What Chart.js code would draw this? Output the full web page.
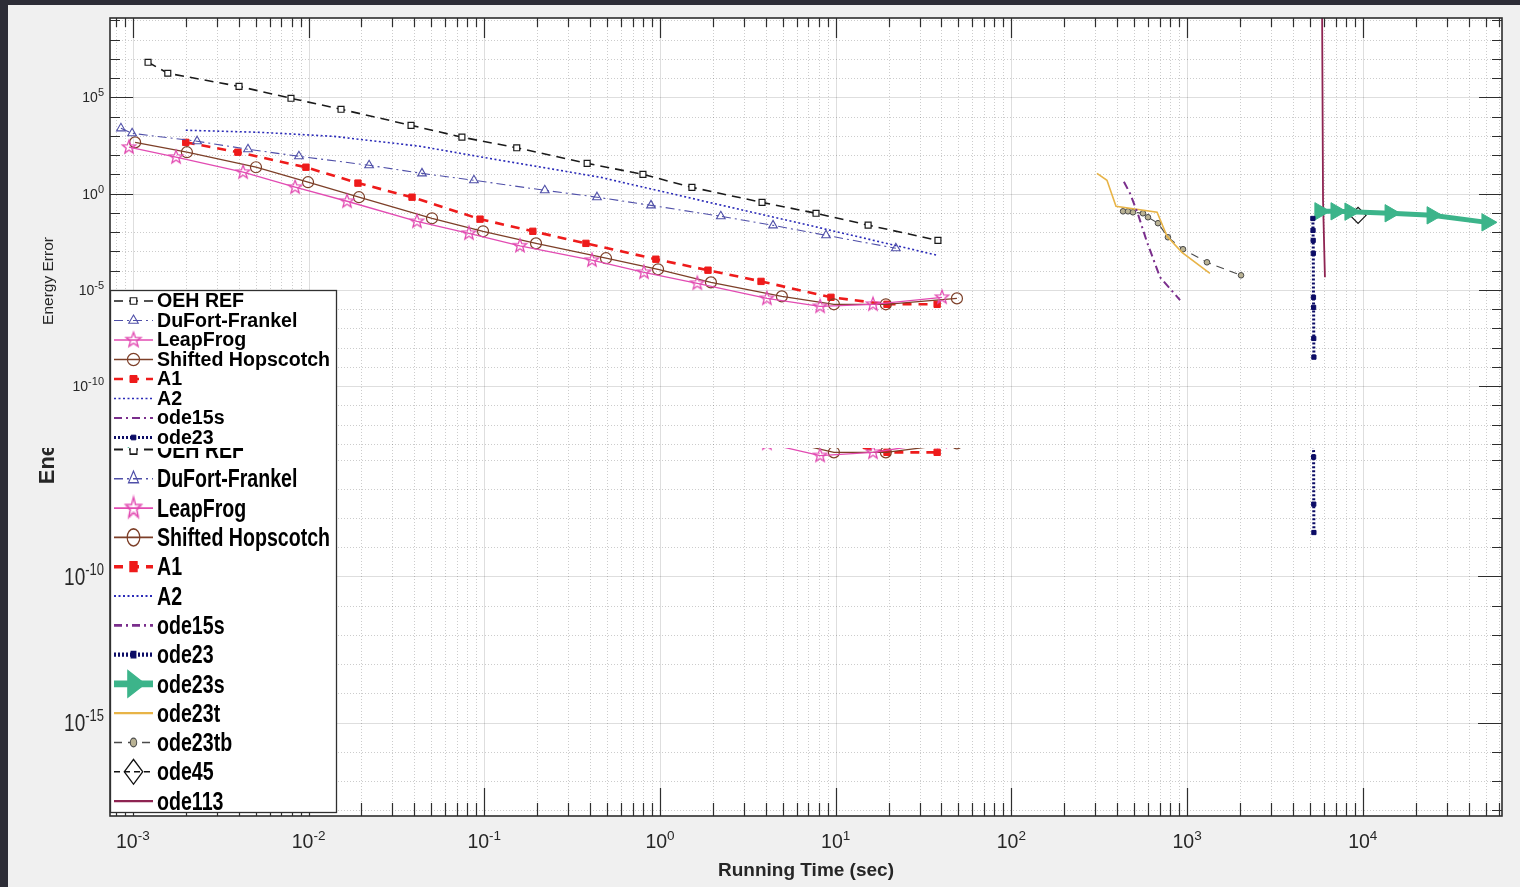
<!DOCTYPE html>
<html>
<head>
<meta charset="utf-8">
<script src="https://cdn.jsdelivr.net/npm/chart.js@4.4.1/dist/chart.umd.min.js"></script>
<style>
  html, body { margin: 0; padding: 0; background: #2d2d37; overflow: hidden; }
  #paper { position: absolute; left: 8px; top: 5px; width: 1512px; height: 882px; background: #f0f0f0; }
  .clip { position: absolute; left: 0; width: 1520px; overflow: hidden; }
  .clip canvas { position: absolute; left: 0; }
</style>
</head>
<body>
<div id="paper"></div>
<div class="clip" style="top:0; height:448px;">
  <canvas id="topChart" width="1520" height="620" style="top:0; width:1520px; height:620px;"></canvas>
</div>
<div class="clip" style="top:448px; height:439px;">
  <canvas id="bottomChart" width="1520" height="887" style="top:-448px; width:1520px; height:887px;"></canvas>
</div>

<script>
// ---- data (running time in sec, energy error) ----
var oehRefX = [1.22e-3, 1.58e-3, 4.02e-3, 7.94e-3, 0.0153, 0.0383, 0.0746, 0.153, 0.385, 0.80, 1.52, 3.81, 7.73, 15.3, 38.2];
var oehRefY = [6.6e6, 1.78e6, 3.7e5, 8.9e4, 2.4e4, 3.5e3, 850, 240, 37, 10, 2.1, 0.35, 0.095, 0.023, 3.7e-3];

var duFortX = [8.55e-4, 9.9e-4, 2.32e-3, 4.52e-3, 8.81e-3, 0.0221, 0.0442, 0.0873, 0.221, 0.438, 0.889, 2.22, 4.40, 8.81, 22.0];
var duFortY = [2450, 1350, 525, 200, 87, 29.5, 11.2, 4.9, 1.48, 0.65, 0.245, 0.066, 0.0224, 6.8e-3, 1.45e-3];

var leapFrogX = [9.5e-4, 1.76e-3, 4.24e-3, 8.38e-3, 0.01656, 0.0414, 0.0818, 0.1596, 0.410, 0.811, 1.63, 4.06, 8.15, 16.3, 40.3];
var leapFrogY = [257, 78, 12.9, 2.14, 0.40, 0.036, 8.7e-3, 1.95e-3, 3.47e-4, 8.1e-5, 2.19e-5, 3.6e-6, 1.38e-6, 1.78e-6, 4.1e-6];

var hopscotchX = [1.03e-3, 2.03e-3, 5.02e-3, 9.93e-3, 0.01936, 0.0504, 0.0984, 0.197, 0.493, 0.975, 1.95, 4.94, 9.77, 19.3, 49.0];
var hopscotchY = [457, 141, 23.4, 3.9, 0.65, 0.052, 0.011, 2.6e-3, 4.4e-4, 1.17e-4, 2.45e-5, 4.6e-6, 1.78e-6, 1.78e-6, 3.6e-6];

var a1X = [2.0e-3, 3.96e-3, 9.66e-3, 0.0191, 0.0388, 0.0946, 0.189, 0.379, 0.948, 1.876, 3.76, 9.40, 19.6, 37.8];
var a1Y = [457, 141, 23.4, 3.5, 0.65, 0.047, 0.011, 2.6e-3, 3.9e-4, 1.05e-4, 2.75e-5, 4.1e-6, 1.78e-6, 1.78e-6];

var a2X = [2.0e-3, 5.28e-3, 0.01377, 0.043, 0.1228, 0.456, 1.69, 6.27, 37.8];
var a2Y = [1950, 1520, 950, 288, 54, 7.1, 0.45, 0.029, 6.3e-4];

var ode15sX = [437, 473, 526, 592, 702, 912];
var ode15sY = [4.1, 1.05, 0.083, 2.95e-3, 4.5e-5, 2.9e-6];

var ode23X = [5200, 5210, 5220, 5230, 5240, 5250, 5260, 5270];
var ode23Y = [0.051, 0.0123, 3.7e-3, 7.9e-4, 4.1e-6, 1.23e-6, 3.0e-8, 3.2e-9];

var ode23sX = [5700, 7040, 8450, 14300, 24800, 50900];
var ode23sY = [0.12, 0.12, 0.115, 0.095, 0.074, 0.032];

var ode23tX = [307, 350, 394, 675, 769, 935, 1349];
var ode23tY = [11.3, 4.9, 0.22, 0.107, 6.0e-3, 8.9e-4, 7.2e-5];

var ode23tbX = [432, 461, 492, 561, 599, 683, 778, 948, 1298, 2028];
var ode23tbY = [0.12, 0.12, 0.107, 0.095, 0.059, 0.029, 5.4e-3, 1.29e-3, 2.7e-4, 5.7e-5];

var ode45X = [9400];
var ode45Y = [0.074];

var ode113X = [5850, 5940, 6090];
var ode113Y = [1e12, 0.45, 4.5e-5];

var seriesNames = ['OEH REF', 'DuFort-Frankel', 'LeapFrog', 'Shifted Hopscotch', 'A1', 'A2',
  'ode15s', 'ode23', 'ode23s', 'ode23t', 'ode23tb', 'ode45', 'ode113'];
var seriesX = [oehRefX, duFortX, leapFrogX, hopscotchX, a1X, a2X, ode15sX, ode23X, ode23sX, ode23tX, ode23tbX, ode45X, ode113X];
var seriesY = [oehRefY, duFortY, leapFrogY, hopscotchY, a1Y, a2Y, ode15sY, ode23Y, ode23sY, ode23tY, ode23tbY, ode45Y, ode113Y];

var xTickValues = [1e-3, 1e-2, 1e-1, 1, 10, 100, 1000, 1e4];
var yTickValues = [1e5, 1, 1e-5, 1e-10, 1e-15];

// ---- look ----
var FONT = "'Liberation Sans', Arial, sans-serif";
var xMin = 7.41e-4, xMax = 6.2e4;
var yMin = Math.pow(10, -18.2), yMax = Math.pow(10, 9.12);

function starImage(color, r) {
  var c = document.createElement('canvas');
  var s = Math.ceil(r * 2 + 4);
  c.width = c.height = s;
  var g = c.getContext('2d');
  g.strokeStyle = color;
  g.lineWidth = 1.3;
  g.beginPath();
  for (var i = 0; i < 10; i++) {
    var ang = -Math.PI / 2 + i * Math.PI / 5;
    var rr = i % 2 ? r * 0.42 : r;
    g.lineTo(s / 2 + rr * Math.cos(ang), s / 2 + rr * Math.sin(ang));
  }
  g.closePath();
  g.stroke();
  return c;
}

var clear = 'rgba(255,255,255,0)';
var styles = [
  {color: '#1a1a1a', width: 1.6, dash: [9, 6], point: 'rect', r: 4.2, fill: '#ffffff', pw: 1.2},
  {color: '#4f4fa8', width: 1.1, dash: [9, 4, 2, 4], point: 'triangle', r: 5, fill: clear, pw: 1.1},
  {color: '#e24bb2', width: 1.3, dash: [], point: starImage('#e24bb2', 7), r: 7, fill: clear, pw: 1},
  {color: '#7d3f28', width: 1.3, dash: [], point: 'circle', r: 5.5, fill: clear, pw: 1.2},
  {color: '#ee1b1b', width: 2.6, dash: [9, 7], point: 'rect', r: 4.5, fill: '#ee1b1b', pw: 1},
  {color: '#2a2ab8', width: 1.6, dash: [2, 2.5], point: false, r: 0},
  {color: '#7a2e8c', width: 2, dash: [8, 4, 2, 4], point: false, r: 0},
  {color: '#0c0c66', width: 3, dash: [2, 2], point: 'rect', r: 3, fill: '#0c0c66', pw: 1},
  {color: '#3cb48a', width: 5, dash: [], point: 'triangle', rot: 90, r: 10, fill: '#3cb48a', pw: 1},
  {color: '#e8b447', width: 1.6, dash: [], point: false, r: 0},
  {color: '#4a4a4a', width: 1.1, dash: [8, 6], point: 'circle', r: 2.8, fill: '#b9b294', pw: 1},
  {color: '#111111', width: 1.2, dash: [6, 4], point: 'rectRot', r: 8, fill: clear, pw: 1.2, noLine: true},
  {color: '#8e2452', width: 1.8, dash: [], point: false, r: 0}
];

// "10" with a raised exponent, the way MATLAB writes log tick labels
function drawPowLabel(ctx, v, x, y, o) {
  var e = String(Math.round(Math.log10(v)));
  ctx.save();
  ctx.translate(x, y);
  ctx.scale(1, o.vs || 1);
  ctx.fillStyle = '#262626';
  ctx.textBaseline = 'alphabetic';
  ctx.textAlign = 'left';
  ctx.font = o.size + 'px ' + FONT;
  var w1 = ctx.measureText('10').width;
  ctx.font = o.sup + 'px ' + FONT;
  var w2 = ctx.measureText(e).width;
  var x0 = o.align === 'center' ? -(w1 + w2) / 2 : -(w1 + w2);
  ctx.font = o.size + 'px ' + FONT;
  ctx.fillText('10', x0, 0);
  ctx.font = o.sup + 'px ' + FONT;
  ctx.fillText(e, x0 + w1, -o.raise);
  ctx.restore();
}

function drawMarker(ctx, ds, x, y, k) {
  var st = ds.pointStyle, r = ds.pointRadius * k;
  if (!st || r <= 0) return;
  ctx.save();
  ctx.setLineDash([]);
  ctx.fillStyle = ds.pointBackgroundColor;
  ctx.strokeStyle = ds.pointBorderColor;
  ctx.lineWidth = ds.pointBorderWidth;
  if (typeof st !== 'string') {
    var w = st.width * k, h = st.height * k;
    ctx.drawImage(st, x - w / 2, y - h / 2, w, h);
    ctx.restore();
    return;
  }
  ctx.beginPath();
  if (st === 'rect') {
    var s = r * Math.SQRT1_2;
    ctx.rect(x - s, y - s, 2 * s, 2 * s);
  } else if (st === 'circle') {
    ctx.arc(x, y, r, 0, Math.PI * 2);
  } else if (st === 'rectRot') {
    ctx.moveTo(x - r, y); ctx.lineTo(x, y - r); ctx.lineTo(x + r, y); ctx.lineTo(x, y + r); ctx.closePath();
  } else if (st === 'triangle') {
    var rad = (ds.pointRotation || 0) * Math.PI / 180;
    for (var i = 0; i < 3; i++) {
      var a = rad + i * 2 * Math.PI / 3;
      ctx.lineTo(x + Math.sin(a) * r, y - Math.cos(a) * r);
    }
    ctx.closePath();
  }
  ctx.fill();
  ctx.stroke();
  ctx.restore();
}

// MATLAB-like axes: white box, solid/dotted grid, inward ticks, frame, tick labels and legend
var matlabAxes = {
  id: 'matlabAxes',
  beforeDatasetsDraw: function (chart, args, o) {
    var ctx = chart.ctx, a = chart.chartArea, xs = chart.scales.x, ys = chart.scales.y;
    ctx.save();
    ctx.fillStyle = '#ffffff';
    ctx.fillRect(a.left, a.top, a.right - a.left, a.bottom - a.top);
    ctx.lineWidth = 1;
    for (var e = -4; e <= 5; e++) {
      for (var k = 1; k <= 9; k++) {
        var v = k * Math.pow(10, e);
        if (v <= xMin || v >= xMax) continue;
        var px = Math.round(xs.getPixelForValue(v)) + 0.5;
        ctx.strokeStyle = k === 1 ? 'rgba(0,0,0,0.13)' : 'rgba(0,0,0,0.2)';
        ctx.setLineDash(k === 1 ? [] : [1, 2]);
        ctx.beginPath(); ctx.moveTo(px, a.top); ctx.lineTo(px, a.bottom); ctx.stroke();
      }
    }
    for (var d = -19; d <= 9; d++) {
      var yv = Math.pow(10, d);
      if (yv <= yMin || yv >= yMax) continue;
      var py = Math.round(ys.getPixelForValue(yv)) + 0.5;
      var major = d % 5 === 0;
      ctx.strokeStyle = major ? 'rgba(0,0,0,0.13)' : 'rgba(0,0,0,0.2)';
      ctx.setLineDash(major ? [] : [1, 2]);
      ctx.beginPath(); ctx.moveTo(a.left, py); ctx.lineTo(a.right, py); ctx.stroke();
    }
    ctx.restore();
  },
  afterDatasetsDraw: function (chart, args, o) {
    var ctx = chart.ctx, a = chart.chartArea, xs = chart.scales.x, ys = chart.scales.y;
    ctx.save();
    ctx.strokeStyle = '#2e2e2e';
    ctx.lineWidth = 1.2;
    ctx.setLineDash([]);
    ctx.beginPath();
    for (var e = -4; e <= 5; e++) {
      for (var k = 1; k <= 9; k++) {
        var v = k * Math.pow(10, e);
        if (v <= xMin || v >= xMax) continue;
        var px = Math.round(xs.getPixelForValue(v)) + 0.5;
        var len = k === 1 ? o.xMajor : o.xMinor;
        ctx.moveTo(px, a.top); ctx.lineTo(px, a.top + len);
        ctx.moveTo(px, a.bottom); ctx.lineTo(px, a.bottom - len);
      }
    }
    for (var d = -19; d <= 9; d++) {
      var yv = Math.pow(10, d);
      if (yv <= yMin || yv >= yMax) continue;
      var py = Math.round(ys.getPixelForValue(yv)) + 0.5;
      var l2 = d % 5 === 0 ? o.yMajor : o.yMinor;
      ctx.moveTo(a.left, py); ctx.lineTo(a.left + l2, py);
      ctx.moveTo(a.right, py); ctx.lineTo(a.right - l2, py);
    }
    ctx.stroke();
    ctx.lineWidth = 1.6;
    ctx.strokeRect(a.left, a.top, a.right - a.left, a.bottom - a.top);

    // tick labels at the scales' own ticks
    xs.ticks.forEach(function (t) {
      drawPowLabel(ctx, t.value, xs.getPixelForValue(t.value), a.bottom + o.xLab.dy, o.xLab);
    });
    ys.ticks.forEach(function (t) {
      drawPowLabel(ctx, t.value, a.left - 6, ys.getPixelForValue(t.value) + o.yLab.dy, o.yLab);
    });

    // legend
    var L = o.legend;
    ctx.fillStyle = '#ffffff';
    ctx.fillRect(L.x, L.y, L.w, L.h);
    ctx.lineWidth = 1.3;
    ctx.strokeStyle = '#303030';
    ctx.strokeRect(L.x + 0.5, L.y + 0.5, L.w, L.h);
    chart.data.datasets.forEach(function (ds, i) {
      var cy = L.first + i * L.rowH;
      ctx.save();
      ctx.translate(0, cy);
      ctx.scale(1, L.vs);
      ctx.strokeStyle = ds.borderColor;
      ctx.lineWidth = Math.min(ds.borderWidth, 6);
      ctx.setLineDash(ds.borderDash || []);
      ctx.beginPath(); ctx.moveTo(L.x + 4, 0); ctx.lineTo(L.x + 43, 0); ctx.stroke();
      drawMarker(ctx, ds, L.x + 23.5, 0, L.ms);
      ctx.fillStyle = '#000000';
      ctx.font = L.font;
      ctx.textBaseline = 'middle';
      ctx.textAlign = 'left';
      ctx.fillText(ds.label, L.x + 47, 1);
      ctx.restore();
    });
    ctx.restore();
  }
};

function buildChart(id, cfg) {
  var datasets = seriesNames.map(function (name, i) {
    var st = styles[i];
    return {
      label: name,
      data: seriesX[i].map(function (xv, j) { return {x: xv, y: seriesY[i][j]}; }),
      showLine: !st.noLine,
      borderColor: st.color,
      borderWidth: st.width,
      borderDash: st.dash,
      pointStyle: st.point,
      pointRadius: st.r,
      pointRotation: st.rot || 0,
      pointBackgroundColor: st.fill || st.color,
      pointBorderColor: st.color,
      pointBorderWidth: st.pw || 1,
      tension: 0
    };
  });
  return new Chart(document.getElementById(id), {
    type: 'scatter',
    data: {datasets: datasets},
    plugins: [matlabAxes],
    options: {
      responsive: false,
      animation: false,
      devicePixelRatio: 1,
      events: [],
      layout: {padding: {left: cfg.padLeft, right: 18, top: 18, bottom: 0}},
      plugins: {
        legend: {display: false},
        tooltip: {enabled: false},
        matlabAxes: cfg.axes
      },
      scales: {
        x: {
          type: 'logarithmic', min: xMin, max: xMax,
          afterBuildTicks: function (s) { s.ticks = xTickValues.map(function (v) { return {value: v}; }); },
          afterFit: function (s) { s.height = cfg.xHeight; },
          grid: {display: false, drawTicks: false},
          border: {display: false},
          ticks: {display: false},
          title: {display: true, text: 'Running Time (sec)', color: '#262626',
            font: {family: FONT, size: 19, weight: 'bold'}, padding: {top: 4, bottom: 5}}
        },
        y: {
          type: 'logarithmic', min: yMin, max: yMax,
          afterBuildTicks: function (s) { s.ticks = yTickValues.map(function (v) { return {value: v}; }); },
          afterFit: function (s) { s.width = 110 - cfg.padLeft; },
          grid: {display: false, drawTicks: false},
          border: {display: false},
          ticks: {display: false},
          title: {display: true, text: 'Energy Error', color: '#262626',
            font: cfg.yTitleFont, padding: {top: 4, bottom: 4}}
        }
      }
    }
  });
}

// squeezed rendering on the upper part of the picture
buildChart('topChart', {
  padLeft: 35, xHeight: 76,
  yTitleFont: {family: FONT, size: 15.5},
  axes: {xMajor: 20, xMinor: 9, yMajor: 23, yMinor: 10,
    xLab: {size: 13.5, sup: 10.5, raise: 5.5, dy: 20, align: 'center'},
    yLab: {size: 14, sup: 11, raise: 6, dy: 5, align: 'right'},
    legend: {x: 110, y: 290, w: 226, h: 262, first: 301, rowH: 19.5, vs: 1, ms: 1.1,
      font: 'bold 19.6px ' + FONT}}
});

// full-height rendering on the lower part of the picture
buildChart('bottomChart', {
  padLeft: 31, xHeight: 71,
  yTitleFont: {family: FONT, size: 22, weight: 'bold'},
  axes: {xMajor: 28, xMinor: 13, yMajor: 24, yMinor: 10,
    xLab: {size: 19.5, sup: 13.5, raise: 8, dy: 32, align: 'center'},
    yLab: {size: 19, sup: 13, raise: 8, dy: 8.8, align: 'right', vs: 1.3},
    legend: {x: 110, y: 434, w: 226, h: 378, first: 449.5, rowH: 29.3, vs: 1.35, ms: 1.15,
      font: 'bold 19.6px ' + FONT}}
});
</script>
</body>
</html>
